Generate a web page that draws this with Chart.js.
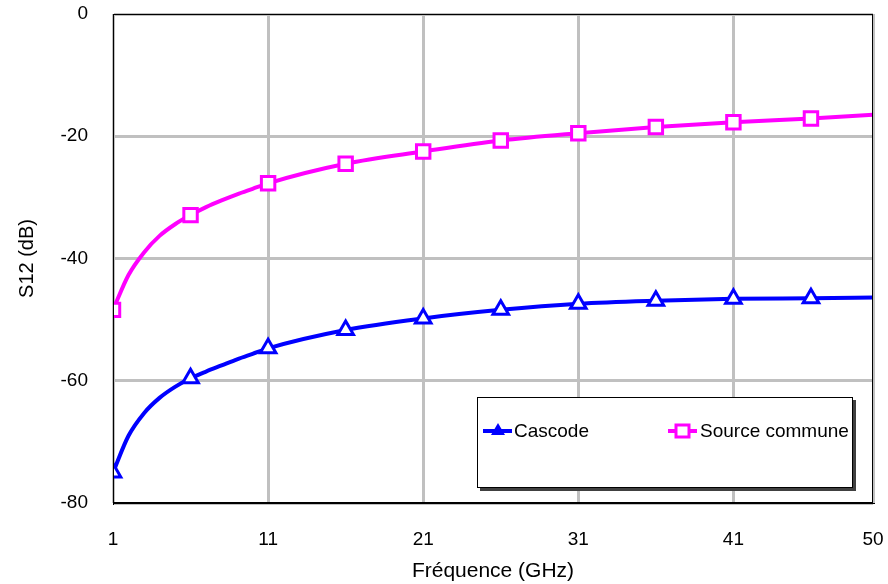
<!DOCTYPE html>
<html>
<head>
<meta charset="utf-8">
<script src="https://cdn.jsdelivr.net/npm/chart.js@4/dist/chart.umd.min.js"></script>
<style>
  html, body { margin: 0; padding: 0; background: #fff; }
  #wrap { width: 888px; height: 584px; }
</style>
</head>
<body>
<div id="wrap"><canvas id="chart" width="888" height="584"></canvas></div>
<script>
// Données
const frequences = [1, 2, 3, 4, 5, 6, 7, 8, 9, 10, 11, 16, 21, 26, 31, 36, 41, 46, 50];
const cascode = [-75.0, -69.0, -65.3, -62.8, -61.0, -59.6, -58.5, -57.5, -56.5, -55.6, -54.7, -51.7, -49.8, -48.4, -47.4, -46.9, -46.6, -46.5, -46.4];
const sourceCommune = [-48.4, -42.7, -39.0, -36.3, -34.4, -32.9, -31.6, -30.5, -29.5, -28.6, -27.7, -24.5, -22.5, -20.7, -19.5, -18.5, -17.7, -17.1, -16.5];
const ticksX = [1, 11, 21, 31, 41, 50];
const ticksY = [0, -20, -40, -60, -80];
const marqueurs = [1, 6, 11, 16, 21, 26, 31, 36, 41, 46]; // fréquences avec symbole

const police = 'Liberation Sans, Arial, sans-serif';
Chart.defaults.font.family = police;
Chart.defaults.color = '#000';

const toPoints = serie => frequences.map((f, i) => ({ x: f, y: serie[i] }));
const rayon = taille => ctx => marqueurs.includes(ctx.raw && ctx.raw.x) ? taille : 0;

// cadre noir autour de la zone de tracé + légende encadrée
const cadre = {
  id: 'cadre',
  afterDraw(chart) {
    const { ctx, chartArea: a } = chart;
    ctx.save();
    ctx.strokeStyle = '#000';
    ctx.lineWidth = 1;
    ctx.strokeRect(a.left + 0.5, a.top + 0.5, a.right - a.left - 1, a.bottom - a.top - 1);

    // légende
    const w = a.right - a.left, h = a.bottom - a.top;
    const lx = Math.round(a.left + w * 0.479), ly = Math.round(a.top + h * 0.783);
    const lw = Math.round(w * 0.495), lh = Math.round(h * 0.186);
    ctx.fillStyle = '#404040';
    ctx.fillRect(lx + 3, ly + 3, lw, lh);
    ctx.fillStyle = '#fff';
    ctx.fillRect(lx, ly, lw, lh);
    ctx.strokeStyle = '#000';
    ctx.strokeRect(lx + 0.5, ly + 0.5, lw - 1, lh - 1);

    const yi = ly + 34;
    ctx.font = '19px ' + police;
    ctx.textBaseline = 'middle';
    ctx.textAlign = 'left';
    // Cascode
    ctx.strokeStyle = '#0000ff';
    ctx.lineWidth = 4;
    ctx.beginPath(); ctx.moveTo(lx + 6, yi); ctx.lineTo(lx + 35, yi); ctx.stroke();
    ctx.fillStyle = '#0000ff';
    ctx.beginPath(); ctx.moveTo(lx + 21, yi - 8); ctx.lineTo(lx + 28, yi + 4); ctx.lineTo(lx + 14, yi + 4); ctx.closePath(); ctx.fill();
    ctx.fillStyle = '#000';
    ctx.fillText('Cascode', lx + 37, yi + 1);
    // Source commune
    ctx.strokeStyle = '#ff00ff';
    ctx.beginPath(); ctx.moveTo(lx + 191, yi); ctx.lineTo(lx + 220, yi); ctx.stroke();
    ctx.lineWidth = 3;
    ctx.fillStyle = '#fff';
    ctx.fillRect(lx + 199, yi - 6, 13, 12);
    ctx.strokeRect(lx + 199, yi - 6, 13, 12);
    ctx.fillStyle = '#000';
    ctx.fillText('Source commune', lx + 223, yi + 1);
    ctx.restore();
  }
};

new Chart(document.getElementById('chart').getContext('2d'), {
  type: 'line',
  data: {
    datasets: [
      {
        label: 'Cascode',
        data: toPoints(cascode),
        borderColor: '#0000ff',
        borderWidth: 4,
        cubicInterpolationMode: 'monotone',
        pointStyle: 'triangle',
        pointRadius: rayon(9),
        pointBorderWidth: 3,
        pointBorderColor: '#0000ff',
        pointBackgroundColor: '#fff',
        clip: 0
      },
      {
        label: 'Source commune',
        data: toPoints(sourceCommune),
        borderColor: '#ff00ff',
        borderWidth: 4,
        cubicInterpolationMode: 'monotone',
        pointStyle: 'rect',
        pointRadius: rayon(9.5),
        pointBorderWidth: 3,
        pointBorderColor: '#ff00ff',
        pointBackgroundColor: '#fff',
        clip: 0
      }
    ]
  },
  options: {
    responsive: false,
    animation: false,
    layout: { padding: { top: 14, right: 15, left: 0, bottom: 0 } },
    plugins: { legend: { display: false }, tooltip: { enabled: false } },
    scales: {
      x: {
        type: 'linear',
        min: 1,
        max: 50,
        afterBuildTicks: s => { s.ticks = ticksX.map(v => ({ value: v })); },
        afterFit: s => { s.height = 81; s.paddingLeft = 0; s.paddingRight = 0; },
        grid: { color: '#c0c0c0', lineWidth: 3, drawTicks: false },
        border: { color: '#000', width: 1 },
        ticks: { font: { size: 19 }, padding: 25, maxRotation: 0 },
        title: { display: true, text: 'Fréquence (GHz)', font: { size: 21 }, padding: { top: 0, bottom: 0 } }
      },
      y: {
        min: -80,
        max: 0,
        afterBuildTicks: s => { s.ticks = ticksY.map(v => ({ value: v })); },
        afterFit: s => { s.width = 113; s.paddingTop = 0; s.paddingBottom = 0; },
        grid: { color: '#c0c0c0', lineWidth: 3, drawTicks: false },
        border: { color: '#000', width: 1 },
        ticks: { font: { size: 19 }, padding: 25 },
        title: { display: true, text: 'S12 (dB)', font: { size: 20 }, padding: { top: 15, bottom: 0 } }
      }
    }
  },
  plugins: [cadre]
});
</script>
</body>
</html>
